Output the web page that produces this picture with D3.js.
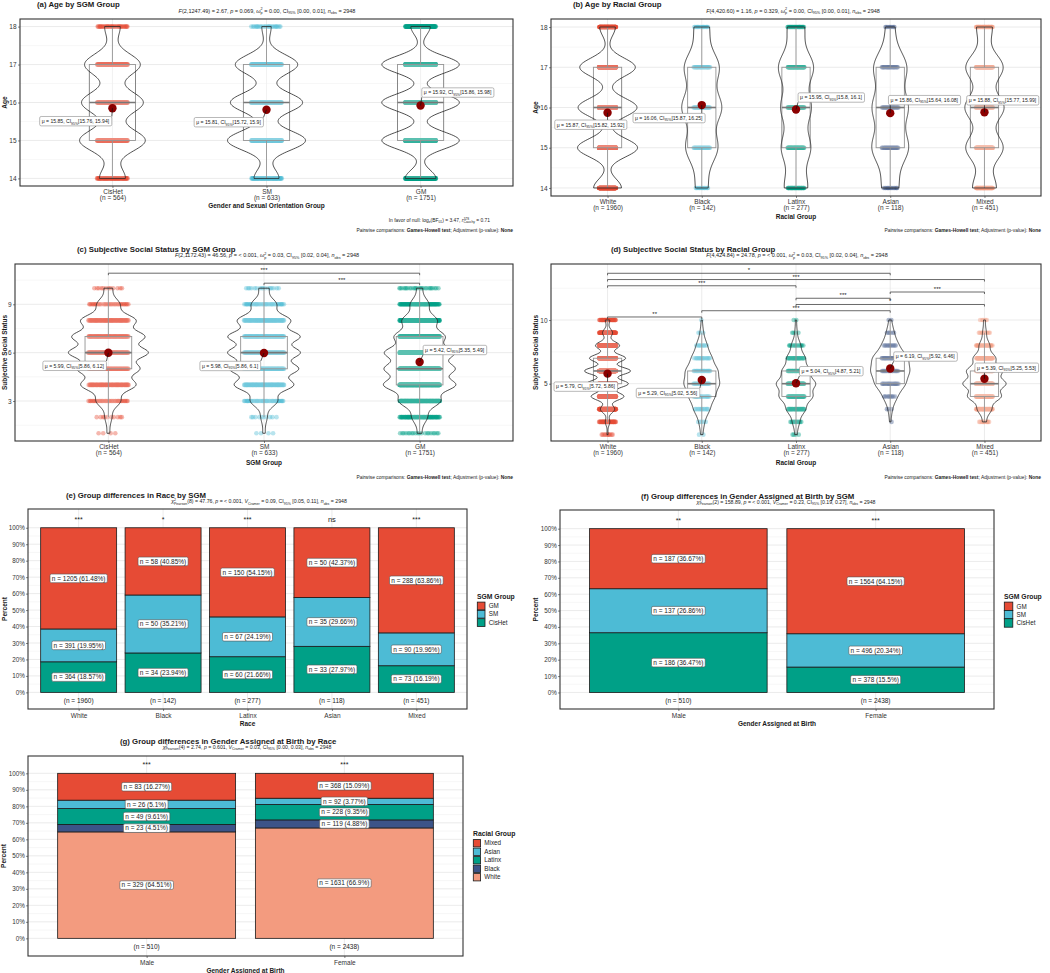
<!DOCTYPE html>
<html>
<head>
<meta charset="utf-8">
<script src="https://cdn.jsdelivr.net/npm/d3@7"></script>
<style>
  body { margin: 0; background: #fff; }
  svg text { font-family: "Liberation Sans", Arial, Helvetica, sans-serif; fill: #1a1a1a; }
</style>
</head>
<body>
<script>
// ---------------- data ----------------
var sgmGroups = ["CisHet", "SM", "GM"];
var sgmN = [564, 633, 1751];
var raceGroups = ["White", "Black", "Latinx", "Asian", "Mixed"];
var raceN = [1960, 142, 277, 118, 451];
var sexGroups = ["Male", "Female"];

var ageValues = [14, 15, 16, 17, 18];
var ageCountsSgm = [[65, 165, 155, 140, 39], [64, 200, 185, 160, 24], [190, 480, 481, 480, 120]];
var ageCountsRace = [[250, 540, 530, 500, 140], [13, 34, 42, 37, 16], [48, 60, 62, 72, 35], [15, 33, 32, 30, 8], [70, 110, 115, 110, 46]];
var ageMeanSgm = [15.85, 15.81, 15.92];
var ageCiSgm = [[15.76, 15.94], [15.72, 15.9], [15.86, 15.98]];
var ageMeanRace = [15.87, 16.06, 15.95, 15.86, 15.88];
var ageCiRace = [[15.82, 15.92], [15.87, 16.25], [15.8, 16.1], [15.64, 16.08], [15.77, 15.99]];

// subjective social status (1..10)
var sssValues = [1, 2, 3, 4, 5, 6, 7, 8, 9, 10];
var sssCountsSgm = [[4, 10, 35, 80, 90, 115, 105, 80, 33, 12], [4, 10, 43, 95, 110, 115, 115, 85, 40, 16], [20, 70, 190, 330, 320, 320, 230, 160, 85, 26]];
var sssCountsRace = [[10, 40, 130, 300, 380, 420, 330, 220, 90, 40], [2, 5, 15, 24, 33, 30, 19, 10, 3, 1], [4, 12, 33, 58, 68, 48, 32, 16, 4, 2], [0, 1, 3, 11, 24, 30, 28, 13, 6, 2], [0, 10, 38, 90, 115, 95, 60, 28, 10, 5]];
var sssMeanSgm = [5.99, 5.98, 5.42];
var sssCiSgm = [[5.86, 6.12], [5.86, 6.1], [5.35, 5.49]];
var sssMeanRace = [5.79, 5.29, 5.04, 6.19, 5.39];
var sssCiRace = [[5.72, 5.86], [5.02, 5.56], [4.87, 5.21], [5.92, 6.46], [5.25, 5.53]];
var sssPairsSgm = [["SM", "GM", "***"], ["CisHet", "GM", "***"]];
var sssPairsRace = [["White", "Black", "**"], ["Black", "Asian", "***"], ["Latinx", "Mixed", "*"], ["Latinx", "Asian", "***"],
  ["Asian", "Mixed", "***"], ["White", "Latinx", "***"], ["White", "Mixed", "***"], ["White", "Asian", "*"]];

// stacked bars
var sgmStack = ["CisHet", "SM", "GM"];
var raceBySgmCounts = [[364, 391, 1205], [34, 50, 58], [60, 67, 150], [33, 35, 50], [73, 90, 288]];
var raceBySgmStars = ["***", "*", "***", "ns", "***"];
var sexBySgmCounts = [[186, 137, 187], [378, 496, 1564]];
var sexBySgmStars = ["**", "***"];
var raceStack = ["White", "Black", "Latinx", "Asian", "Mixed"];
var sexByRaceCounts = [[329, 23, 49, 26, 83], [1631, 119, 228, 92, 368]];
var sexByRaceStars = ["***", "***"];
var pctTicks = [0, 0.1, 0.2, 0.3, 0.4, 0.5, 0.6, 0.7, 0.8, 0.9, 1];

// subtitles / captions
var subA = [["F", "i"], ["(2,1247.49) = 2.67, "], ["p", "i"], [" = 0.069, "], ["ω", "i"], ["2", "sup"], ["p", "subst"], [" = 0.00, CI"], ["95%", "sub"], [" [0.00, 0.01], "], ["n", "i"], ["obs", "sub"], [" = 2948"]];
var subB = [["F", "i"], ["(4,420.60) = 1.16, "], ["p", "i"], [" = 0.329, "], ["ω", "i"], ["2", "sup"], ["p", "subst"], [" = 0.00, CI"], ["95%", "sub"], [" [0.00, 0.01], "], ["n", "i"], ["obs", "sub"], [" = 2948"]];
var subC = [["F", "i"], ["(2,1172.43) = 46.56, "], ["p", "i"], [" = < 0.001, "], ["ω", "i"], ["2", "sup"], ["p", "subst"], [" = 0.03, CI"], ["95%", "sub"], [" [0.02, 0.04], "], ["n", "i"], ["obs", "sub"], [" = 2948"]];
var subD = [["F", "i"], ["(4,424.84) = 24.78, "], ["p", "i"], [" = < 0.001, "], ["ω", "i"], ["2", "sup"], ["p", "subst"], [" = 0.03, CI"], ["95%", "sub"], [" [0.02, 0.04], "], ["n", "i"], ["obs", "sub"], [" = 2948"]];
var subE = [["χ", "i"], ["2", "sup"], ["Pearson", "subst"], ["(8) = 47.76, "], ["p", "i"], [" = < 0.001, "], ["V", "i"], ["Cramer", "sub"], [" = 0.09, CI"], ["95%", "sub"], [" [0.05, 0.11], "], ["n", "i"], ["obs", "sub"], [" = 2948"]];
var subF = [["χ", "i"], ["2", "sup"], ["Pearson", "subst"], ["(2) = 158.89, "], ["p", "i"], [" = < 0.001, "], ["V", "i"], ["Cramer", "sub"], [" = 0.23, CI"], ["95%", "sub"], [" [0.19, 0.27], "], ["n", "i"], ["obs", "sub"], [" = 2948"]];
var subG = [["χ", "i"], ["2", "sup"], ["Pearson", "subst"], ["(4) = 2.74, "], ["p", "i"], [" = 0.601, "], ["V", "i"], ["Cramer", "sub"], [" = 0.03, CI"], ["95%", "sub"], [" [0.00, 0.03], "], ["n", "i"], ["obs", "sub"], [" = 2948"]];
var bfCaption = [["In favor of null: log"], ["e", "sub"], ["(BF"], ["01", "sub"], [") = 3.47, "], ["r", "i"], ["JZS", "sup"], ["Cauchy", "subst"], [" = 0.71"]];
var ghCaption = [["Pairwise comparisons: "], ["Games-Howell test", "b"], ["; Adjustment (p-value): "], ["None", "b"]];

// colours (npg)
var npg = ["#E64B35", "#4DBBD5", "#00A087", "#3C5488", "#F39B7F"];

var svg = d3.select("body").append("svg").attr("width", 1050).attr("height", 973);

// ---------------- helpers ----------------
function rich(g, x, y, parts, size, anchor) {
  var t = g.append("text").attr("x", x).attr("y", y).attr("font-size", size)
    .attr("text-anchor", anchor || "start");
  var shift = 0, lastW = 0;
  parts.forEach(function(p) {
    var kind = p[1] || "";
    var s = t.append("tspan").text(p[0]);
    var target = 0, fs = size;
    if (kind == "sub" || kind == "subst") { target = size * 0.3; fs = size * 0.68; }
    if (kind == "sup") { target = -size * 0.4; fs = size * 0.68; }
    if (kind == "subst") s.attr("dx", -lastW);
    s.attr("dy", (target - shift).toFixed(2)).attr("font-size", fs.toFixed(2));
    if (kind == "i") s.attr("font-style", "italic");
    if (kind == "b") s.attr("font-weight", "bold");
    shift = target;
    lastW = p[0].length * fs * 0.56;
  });
  return t;
}

function expand(values, counts) {
  var a = [];
  values.forEach(function(v, i) { for (var k = 0; k < counts[i]; k++) a.push(v); });
  return a;
}

function nrd0(arr) {
  var s = d3.deviation(arr);
  var q = d3.quantile(arr, 0.75) - d3.quantile(arr, 0.25);
  var lo = Math.min(s, q / 1.34);
  if (!lo) lo = s || 1;
  return 0.9 * lo * Math.pow(arr.length, -0.2);
}

function frame(g, b) {
  g.append("rect").attr("x", b.x0).attr("y", b.y0).attr("width", b.x1 - b.x0).attr("height", b.y1 - b.y0)
    .attr("fill", "none").attr("stroke", "#333").attr("stroke-width", 1.1);
}

function yTitle(g, x, y, label) {
  g.append("text").attr("transform", "translate(" + x + "," + y + ") rotate(-90)")
    .attr("text-anchor", "middle").attr("font-size", 6.5).attr("font-weight", "bold").text(label);
}

function styleAxis(ax, size) {
  ax.attr("font-family", null).attr("font-size", null).attr("color", "#333");
  ax.select(".domain").remove();
  ax.selectAll(".tick line").attr("stroke-width", 0.6);
  ax.selectAll("text").attr("font-size", size).style("fill", "#333");
}

// ---------------- violin panels ----------------
function violinPanel(c) {
  var b = c.box;
  var g = svg.append("g");
  var x = d3.scalePoint().domain(c.groups).range([b.x0, b.x1]).padding(0.6);
  var y = d3.scaleLinear().domain(c.yDomain).range([b.y1, b.y0]);
  var step = x.step();

  g.selectAll(".ymin").data(c.yMinor).enter().append("line")
    .attr("x1", b.x0).attr("x2", b.x1).attr("y1", function(d) { return y(d); }).attr("y2", function(d) { return y(d); })
    .attr("stroke", "#F2F2F2").attr("stroke-width", 0.6);
  g.selectAll(".ymaj").data(c.yTicks).enter().append("line")
    .attr("x1", b.x0).attr("x2", b.x1).attr("y1", function(d) { return y(d); }).attr("y2", function(d) { return y(d); })
    .attr("stroke", "#E6E6E6").attr("stroke-width", 0.8);
  g.selectAll(".xmaj").data(c.groups).enter().append("line")
    .attr("y1", b.y0).attr("y2", b.y1).attr("x1", function(d) { return x(d); }).attr("x2", function(d) { return x(d); })
    .attr("stroke", "#E6E6E6").attr("stroke-width", 0.8);

  // jittered points
  c.groups.forEach(function(grp, gi) {
    c.values.forEach(function(v, vi) {
      var n = c.counts[gi][vi];
      var hw = step * c.jitter * Math.min(1, 0.35 + n / 30);
      var offs = d3.range(n).map(function(k) { return ((k * 0.6180339887 + vi * 0.37 + gi * 0.11) % 1) * 2 - 1; });
      g.append("g").selectAll("circle").data(offs).enter().append("circle")
        .attr("cx", function(d) { return x(grp) + d * hw; }).attr("cy", y(v)).attr("r", 2.3)
        .attr("fill", c.colors[gi]).attr("fill-opacity", 0.4);
    });
  });

  // boxplots
  c.groups.forEach(function(grp, gi) {
    var arr = expand(c.values, c.counts[gi]);
    var q1 = d3.quantile(arr, 0.25), med = d3.quantile(arr, 0.5), q3 = d3.quantile(arr, 0.75);
    var iqr = q3 - q1;
    var lo = d3.min(arr.filter(function(v) { return v >= q1 - 1.5 * iqr; }));
    var hi = d3.max(arr.filter(function(v) { return v <= q3 + 1.5 * iqr; }));
    var cx = x(grp), bw = step * 0.3;
    g.append("line").attr("x1", cx).attr("x2", cx).attr("y1", y(q3)).attr("y2", y(hi)).attr("stroke", "#7a7a7a").attr("stroke-width", 0.9);
    g.append("line").attr("x1", cx).attr("x2", cx).attr("y1", y(q1)).attr("y2", y(lo)).attr("stroke", "#7a7a7a").attr("stroke-width", 0.9);
    g.append("rect").attr("x", cx - bw / 2).attr("y", y(q3)).attr("width", bw).attr("height", y(q1) - y(q3))
      .attr("fill", "#fff").attr("fill-opacity", 0.2).attr("stroke", "#7a7a7a").attr("stroke-width", 0.9);
    g.append("line").attr("x1", cx - bw / 2).attr("x2", cx + bw / 2).attr("y1", y(med)).attr("y2", y(med))
      .attr("stroke", "#555").attr("stroke-width", 1.6);
  });

  // violins (area-scaled gaussian kde, trimmed)
  var dens = c.groups.map(function(grp, gi) {
    var arr = expand(c.values, c.counts[gi]);
    var h = nrd0(arr), lo = d3.min(arr), hi = d3.max(arr), n = arr.length;
    return d3.range(161).map(function(i) {
      var v = lo + (hi - lo) * i / 160, s = 0;
      c.values.forEach(function(u, k) { s += c.counts[gi][k] * Math.exp(-0.5 * Math.pow((v - u) / h, 2)); });
      return { v: v, d: s / (n * h * Math.sqrt(2 * Math.PI)) };
    });
  });
  var dmax = d3.max(dens, function(dd) { return d3.max(dd, function(p) { return p.d; }); });
  var w = d3.scaleLinear().domain([0, dmax]).range([0, c.maxHalf]);
  dens.forEach(function(dd, gi) {
    var cx = x(c.groups[gi]);
    var area = d3.area().x0(function(p) { return cx - w(p.d); }).x1(function(p) { return cx + w(p.d); }).y(function(p) { return y(p.v); });
    g.append("path").attr("d", area(dd)).attr("fill", "#fff").attr("fill-opacity", 0.2)
      .attr("stroke", "#222").attr("stroke-width", 0.8);
  });

  // means and labels
  c.groups.forEach(function(grp, gi) {
    var px = x(grp), py = y(c.means[gi]);
    var nx = px + c.nudge[gi][0], ny = py + c.nudge[gi][1];
    var lg = g.append("g");
    lg.append("circle").attr("cx", px).attr("cy", py).attr("r", 4.2).attr("fill", "#8B0000");
    var conn = lg.append("line");
    var rect = lg.append("rect");
    var t = rich(lg, nx, ny + 1.8, [["μ = " + c.means[gi] + ", CI"], ["95%", "sub"], ["[" + c.cis[gi][0] + ", " + c.cis[gi][1] + "]"]], 5.1, "middle");
    var bb = t.node().getBBox();
    var rx0 = bb.x - 2, rx1 = bb.x + bb.width + 2, ry0 = ny - 4.7, ry1 = ny + 4.7;
    rect.attr("x", rx0).attr("y", ry0).attr("width", rx1 - rx0).attr("height", ry1 - ry0).attr("rx", 1.5)
      .attr("fill", "#fff").attr("stroke", "#8a8a8a").attr("stroke-width", 0.6);
    conn.attr("x1", px).attr("y1", py).attr("x2", Math.max(rx0, Math.min(rx1, px))).attr("y2", Math.max(ry0, Math.min(ry1, py)))
      .attr("stroke", "#111").attr("stroke-width", 0.7);
  });

  // pairwise brackets
  (c.pairs || []).forEach(function(pr, i) {
    var yy = y(c.bracketBase + i * c.bracketStep);
    var xa = x(pr[0]), xb = x(pr[1]);
    g.append("path").attr("d", "M" + xa + "," + (yy + 2) + "V" + yy + "H" + xb + "V" + (yy + 2))
      .attr("fill", "none").attr("stroke", "#444").attr("stroke-width", 0.8);
    g.append("text").attr("x", (xa + xb) / 2).attr("y", yy - 1).attr("text-anchor", "middle").attr("font-size", 6).text(pr[2]);
  });

  // axes
  var ya = g.append("g").attr("transform", "translate(" + b.x0 + ",0)")
    .call(d3.axisLeft(y).tickValues(c.yTicks).tickSize(2).tickPadding(1.5).tickFormat(d3.format("d")));
  styleAxis(ya, 6.5);
  var xa = g.append("g").attr("transform", "translate(0," + b.y1 + ")").call(d3.axisBottom(x).tickSize(2));
  styleAxis(xa, 6.5);
  xa.selectAll("text").text(null).attr("y", null).attr("dy", null).each(function(d, i) {
    var t = d3.select(this);
    t.append("tspan").attr("x", 0).attr("y", 7.6).text(d);
    t.append("tspan").attr("x", 0).attr("y", 14.3).text("(n = " + c.ns[i] + ")");
  });

  g.append("text").attr("x", (b.x0 + b.x1) / 2).attr("y", c.xTitleY).attr("text-anchor", "middle")
    .attr("font-size", 6.5).attr("font-weight", "bold").text(c.xTitle);
  yTitle(g, c.yTitleX, (b.y0 + b.y1) / 2, c.yTitle);

  g.append("text").attr("x", c.titleX).attr("y", c.titleY).attr("font-size", 7.8).attr("font-weight", "bold").text(c.title);
  rich(g, c.subX, c.titleY + 5.6, c.subtitle, 5.5, "middle");
  rich(g, b.x1, c.capY, ghCaption, 4.9, "end");
  frame(g, b);
  return g;
}

// ---------------- stacked bar panels ----------------
function barPanel(c) {
  var b = c.box;
  var g = svg.append("g");
  var x = d3.scalePoint().domain(c.cats).range([b.x0, b.x1]).padding(0.6);
  var bw = x.step() * 0.9;
  var y = d3.scaleLinear().domain(c.yDomain).range([b.y1, b.y0]);

  var minor = pctTicks.slice(1).map(function(t) { return t - 0.05; });
  g.selectAll(".ymin").data(minor).enter().append("line")
    .attr("x1", b.x0).attr("x2", b.x1).attr("y1", function(d) { return y(d); }).attr("y2", function(d) { return y(d); })
    .attr("stroke", "#F2F2F2").attr("stroke-width", 0.6);
  g.selectAll(".ymaj").data(pctTicks).enter().append("line")
    .attr("x1", b.x0).attr("x2", b.x1).attr("y1", function(d) { return y(d); }).attr("y2", function(d) { return y(d); })
    .attr("stroke", "#E6E6E6").attr("stroke-width", 0.8);
  g.selectAll(".xmaj").data(c.cats).enter().append("line")
    .attr("y1", b.y0).attr("y2", b.y1).attr("x1", function(d) { return x(d); }).attr("x2", function(d) { return x(d); })
    .attr("stroke", "#E6E6E6").attr("stroke-width", 0.8);

  var rows = c.cats.map(function(cat, i) {
    var o = { cat: cat, n: d3.sum(c.counts[i]) };
    c.stack.forEach(function(s, j) { o[s] = c.counts[i][j] / o.n; });
    return o;
  });
  var series = d3.stack().keys(c.stack)(rows);

  series.forEach(function(ser, j) {
    g.append("g").selectAll("rect").data(ser).enter().append("rect")
      .attr("x", function(d) { return x(d.data.cat) - bw / 2; })
      .attr("y", function(d) { return y(d[1]); })
      .attr("width", bw)
      .attr("height", function(d) { return y(d[0]) - y(d[1]); })
      .attr("fill", c.colors[j]).attr("stroke", "#1a1a1a").attr("stroke-width", 0.8);
  });

  series.forEach(function(ser, j) {
    ser.forEach(function(d, i) {
      var cnt = c.counts[i][j];
      var pct = Math.round(cnt / rows[i].n * 10000) / 100;
      var cx = x(d.data.cat), cy = y((d[0] + d[1]) / 2);
      var lg = g.append("g");
      var rect = lg.append("rect");
      var t = lg.append("text").attr("x", cx).attr("y", cy + 2.3).attr("text-anchor", "middle").attr("font-size", 6.5)
        .text("n = " + cnt + " (" + pct + "%)");
      var bb = t.node().getBBox();
      rect.attr("x", bb.x - 1.8).attr("y", cy - 4.3).attr("width", bb.width + 3.6).attr("height", 8.6).attr("rx", 1.5)
        .attr("fill", "#fff").attr("stroke", "#555").attr("stroke-width", 0.6);
    });
  });

  c.cats.forEach(function(cat, i) {
    var ns = c.stars[i] == "ns";
    g.append("text").attr("x", x(cat)).attr("y", y(1) - 6).attr("text-anchor", "middle")
      .attr("font-size", ns ? 7.5 : 7).text(c.stars[i]);
    g.append("text").attr("x", x(cat)).attr("y", y(0) + 10.8).attr("text-anchor", "middle")
      .attr("font-size", 6.5).text("(n = " + rows[i].n + ")");
  });

  var ya = g.append("g").attr("transform", "translate(" + b.x0 + ",0)")
    .call(d3.axisLeft(y).tickValues(pctTicks).tickSize(2).tickPadding(1.2).tickFormat(d3.format(".0%")));
  styleAxis(ya, 6.3);
  var xa = g.append("g").attr("transform", "translate(0," + b.y1 + ")").call(d3.axisBottom(x).tickSize(2));
  styleAxis(xa, 6.5);
  xa.selectAll("text").attr("y", 9).attr("dy", null);

  g.append("text").attr("x", (b.x0 + b.x1) / 2).attr("y", b.y1 + 17).attr("text-anchor", "middle")
    .attr("font-size", 6.5).attr("font-weight", "bold").text(c.xTitle);
  yTitle(g, c.yTitleX, (b.y0 + b.y1) / 2, "Percent");

  // legend (top of stack first)
  var lgd = g.append("g").attr("transform", "translate(" + c.legend.x + "," + c.legend.y + ")");
  lgd.append("text").attr("x", 0).attr("y", 0).attr("font-size", 6.8).attr("font-weight", "bold").text(c.legend.title);
  c.stack.slice().reverse().forEach(function(s, k) {
    var j = c.stack.indexOf(s);
    lgd.append("rect").attr("x", 0.3).attr("y", 3.6 + k * c.legend.gap).attr("width", c.legend.key).attr("height", c.legend.key)
      .attr("fill", c.colors[j]).attr("stroke", "#1a1a1a").attr("stroke-width", 0.8);
    lgd.append("text").attr("x", c.legend.key + 4).attr("y", 3.6 + k * c.legend.gap + c.legend.key / 2 + 2.2)
      .attr("font-size", 6.3).text(s);
  });

  g.append("text").attr("x", c.titleX).attr("y", c.titleY).attr("font-size", 7.8).attr("font-weight", "bold").text(c.title);
  rich(g, c.subX, c.titleY + 5.4, c.subtitle, 5.2, "middle");
  frame(g, b);
  return g;
}

// ---------------- build the figure ----------------
violinPanel({
  box: { x0: 20, x1: 513, y0: 19, y1: 186 }, groups: sgmGroups, ns: sgmN,
  values: ageValues, counts: ageCountsSgm, means: ageMeanSgm, cis: ageCiSgm,
  yDomain: [13.8, 18.2], yTicks: [14, 15, 16, 17, 18], yMinor: [14.5, 15.5, 16.5, 17.5],
  colors: [npg[0], npg[1], npg[2]], maxHalf: 39, jitter: 0.1,
  nudge: [[-37, 13], [-38, 12.5], [37, -13]],
  title: "(a) Age by SGM Group", titleX: 37, titleY: 7, subX: 267, subtitle: subA,
  xTitle: "Gender and Sexual Orientation Group", xTitleY: 207.5, yTitle: "Age", yTitleX: 6.5, capY: 232
});
rich(svg, 490, 222, bfCaption, 4.9, "end");

violinPanel({
  box: { x0: 551, x1: 1041, y0: 19, y1: 196 }, groups: raceGroups, ns: raceN,
  values: ageValues, counts: ageCountsRace, means: ageMeanRace, cis: ageCiRace,
  yDomain: [13.8, 18.2], yTicks: [14, 15, 16, 17, 18], yMinor: [14.5, 15.5, 16.5, 17.5],
  colors: npg, maxHalf: 30, jitter: 0.09,
  nudge: [[-17, 12], [-33, 13], [35, -12], [34, -13], [18, -12]],
  title: "(b) Age by Racial Group", titleX: 573, titleY: 7, subX: 793, subtitle: subB,
  xTitle: "Racial Group", xTitleY: 218.5, yTitle: "Age", yTitleX: 537.5, capY: 232
});

violinPanel({
  box: { x0: 15, x1: 513, y0: 264, y1: 441 }, groups: sgmGroups, ns: sgmN,
  values: sssValues, counts: sssCountsSgm, means: sssMeanSgm, cis: sssCiSgm,
  yDomain: [0.52, 11.5], yTicks: [3, 6, 9], yMinor: [1.5, 4.5, 7.5, 10.5],
  colors: [npg[0], npg[1], npg[2]], maxHalf: 40, jitter: 0.13,
  nudge: [[-34, 13], [-34, 13], [35, -12]],
  pairs: sssPairsSgm, bracketBase: 10.31, bracketStep: 0.62,
  title: "(c) Subjective Social Status by SGM Group", titleX: 77, titleY: 251.5, subX: 267, subtitle: subC,
  xTitle: "SGM Group", xTitleY: 464.5, yTitle: "Subjective Social Status", yTitleX: 7, capY: 479
});

violinPanel({
  box: { x0: 551, x1: 1041, y0: 264, y1: 441 }, groups: raceGroups, ns: raceN,
  values: sssValues, counts: sssCountsRace, means: sssMeanRace, cis: sssCiRace,
  yDomain: [0.5, 14.4], yTicks: [5, 10], yMinor: [2.5, 7.5, 12.5],
  colors: npg, maxHalf: 23, jitter: 0.09,
  nudge: [[-22, 13], [-34, 13], [35, -12], [35, -12], [22, -11]],
  pairs: sssPairsRace, bracketBase: 10.24, bracketStep: 0.49,
  title: "(d) Subjective Social Status by Racial Group", titleX: 611, titleY: 251.5, subX: 797, subtitle: subD,
  xTitle: "Racial Group", xTitleY: 464.5, yTitle: "Subjective Social Status", yTitleX: 538, capY: 479
});

barPanel({
  box: { x0: 28, x1: 467, y0: 509, y1: 709 }, cats: raceGroups, stack: sgmStack,
  counts: raceBySgmCounts, stars: raceBySgmStars, colors: [npg[2], npg[1], npg[0]],
  yDomain: [-0.101, 1.114],
  title: "(e) Group differences in Race by SGM", titleX: 66, titleY: 498, subX: 259, subtitle: subE,
  xTitle: "Race", yTitleX: 6.5,
  legend: { x: 477, y: 598.5, title: "SGM Group", key: 7.7, gap: 8.3 }
});

barPanel({
  box: { x0: 560, x1: 994, y0: 510, y1: 709 }, cats: sexGroups, stack: sgmStack,
  counts: sexBySgmCounts, stars: sexBySgmStars, colors: [npg[2], npg[1], npg[0]],
  yDomain: [-0.101, 1.114],
  title: "(f) Group differences in Gender Assigned at Birth by SGM", titleX: 641, titleY: 498.5, subX: 786, subtitle: subF,
  xTitle: "Gender Assigned at Birth", yTitleX: 537.5,
  legend: { x: 1004, y: 598.5, title: "SGM Group", key: 8.5, gap: 8.3 }
});

barPanel({
  box: { x0: 28, x1: 463, y0: 756, y1: 956 }, cats: sexGroups, stack: raceStack,
  counts: sexByRaceCounts, stars: sexByRaceStars, colors: [npg[4], npg[3], npg[2], npg[1], npg[0]],
  yDomain: [-0.107, 1.105],
  title: "(g) Group differences in Gender Assigned at Birth by Race", titleX: 120, titleY: 743.5, subX: 247, subtitle: subG,
  xTitle: "Gender Assigned at Birth", yTitleX: 6,
  legend: { x: 473, y: 836, title: "Racial Group", key: 7.3, gap: 8.5 }
});
</script>
</body>
</html>
